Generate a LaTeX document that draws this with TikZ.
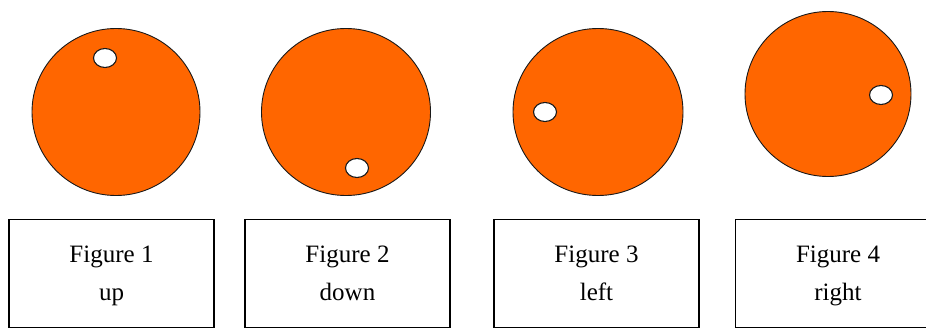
\documentclass[tikz,border=0pt]{standalone}
\usepackage{fontspec}
\setmainfont{Liberation Serif}
\usetikzlibrary{shapes.geometric}
\definecolor{discorange}{RGB}{255,102,0}

\begin{document}
\begin{tikzpicture}[
    x=1pt, y=-1pt,
    disc/.style={ellipse, draw=black!90, line width=0.9pt, fill=discorange, inner sep=0pt},
    hole/.style={ellipse, draw=black!90, line width=1.1pt, fill=white, minimum width=23pt, minimum height=19pt, inner sep=0pt},
    caption/.style={draw, line width=1.1pt, minimum width=205pt, minimum height=108pt, align=center, font=\fontsize{25}{38}\selectfont}
]
\useasboundingbox (0,0) rectangle (926,329);

% Discs
\node[disc, minimum width=168pt, minimum height=167pt] (disc1) at (116,112) {};
\node[disc, minimum width=169pt, minimum height=167pt] (disc2) at (346,112) {};
\node[disc, minimum width=170pt, minimum height=167pt] (disc3) at (598,112) {};
\node[disc, minimum width=166pt, minimum height=165pt] (disc4) at (828,94) {};

% Holes
\node[hole] (hole1) at (105,58) {};
\node[hole] (hole2) at (357,168) {};
\node[hole] (hole3) at (545,112) {};
\node[hole] (hole4) at (881,95) {};

% Captions
\node[caption] (label1) at (111.5,273.5) {\strut Figure 1\\\strut up};
\node[caption] (label2) at (347.5,273.5) {\strut Figure 2\\\strut down};
\node[caption] (label3) at (596.5,273.5) {\strut Figure 3\\\strut left};
\node[caption] (label4) at (838,273.5) {\strut Figure 4\\\strut right};

\end{tikzpicture}
\end{document}
